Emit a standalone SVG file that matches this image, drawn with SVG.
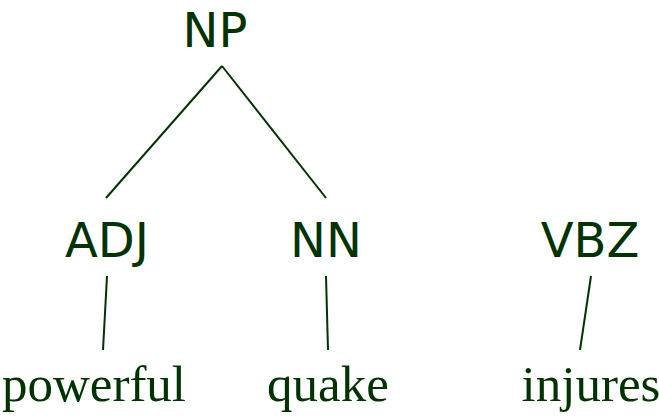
<svg xmlns="http://www.w3.org/2000/svg" width="659" height="416" viewBox="0 0 659 416">
<style>
.cat{font-family:"DejaVu Sans",sans-serif;font-size:48px;fill:#003300;text-anchor:middle}
.word{font-family:"Liberation Serif",serif;font-size:51px;fill:#003300;text-anchor:middle}
.edge{stroke:#003300;stroke-width:2;fill:none}
</style>
<rect width="659" height="416" fill="#ffffff"/>
<g id="connectors">
<line class="edge" x1="222" y1="66" x2="106" y2="198"/>
<line class="edge" x1="222" y1="66" x2="326" y2="198"/>
<line class="edge" x1="107" y1="276" x2="103" y2="350"/>
<line class="edge" x1="326" y1="276" x2="328" y2="350"/>
<line class="edge" x1="591" y1="276" x2="580" y2="350"/>
</g>
<g id="NP"><text class="cat" x="215" y="47">NP</text></g>
<g id="ADJ"><text class="cat" x="107" y="257">ADJ</text></g>
<g id="NN"><text class="cat" x="326" y="257">NN</text></g>
<g id="VBZ"><text class="cat" x="590" y="257">VBZ</text></g>
<g id="powerful"><text class="word" x="94" y="401">powerful</text></g>
<g id="quake"><text class="word" x="328" y="401">quake</text></g>
<g id="injures"><text class="word" x="591" y="401">injures</text></g>
</svg>
